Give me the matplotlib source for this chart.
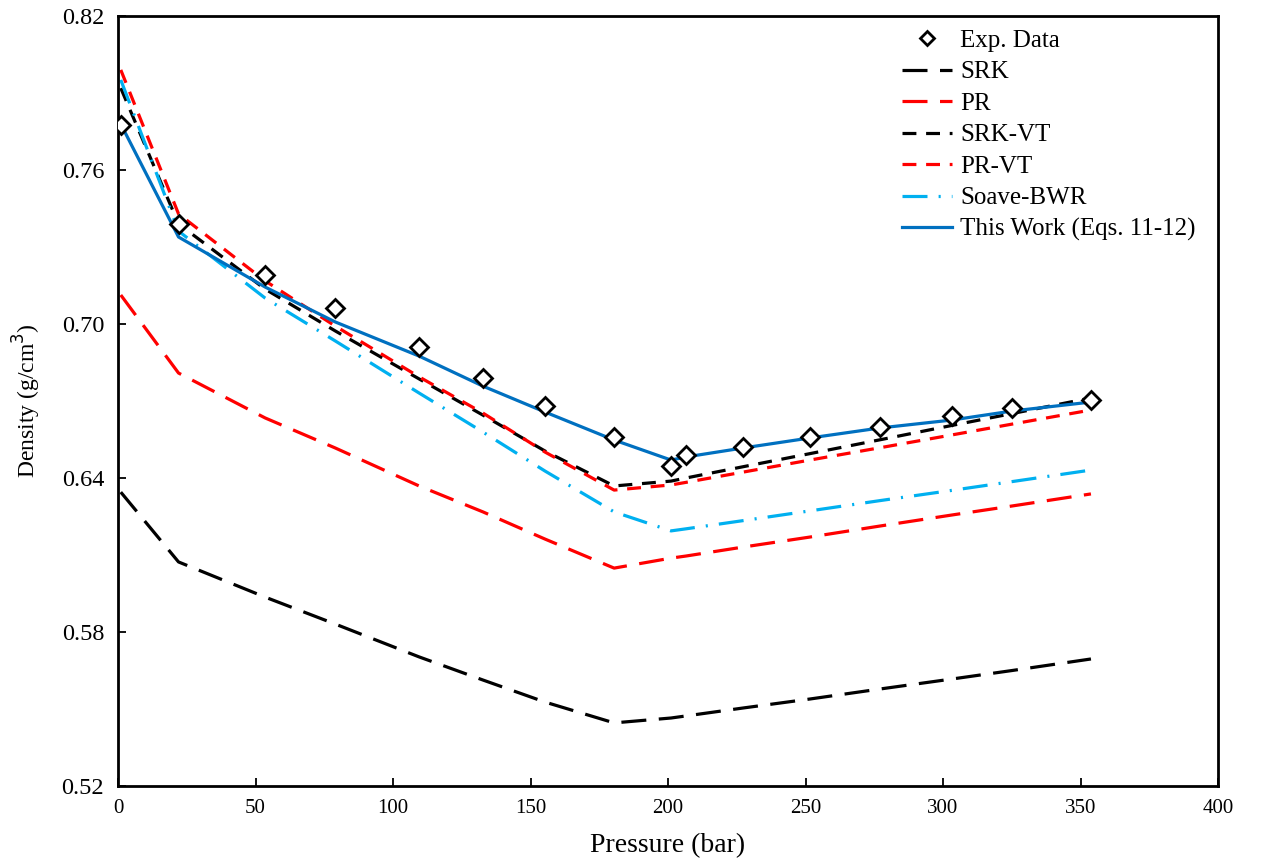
import numpy as np
import matplotlib
matplotlib.use("Agg")
import matplotlib.pyplot as plt
from matplotlib.ticker import FormatStrFormatter, FixedLocator, MultipleLocator

plt.rcParams['font.family'] = ['Liberation Serif', 'DejaVu Serif']
plt.rcParams['lines.scale_dashes'] = False

# pressure grid (bar) shared by measurements and model curves
pressure = [1, 22, 53.5, 79, 109.5, 132.7, 155.3, 180.4, 201.1, 206.5,
            227.3, 251.6, 277.1, 303.3, 325.1, 353.8]

# densities, g/cm3
exp_data = [0.7775, 0.7390, 0.7191, 0.7062, 0.6910, 0.6790, 0.6680, 0.6560,
            0.6447, 0.6490, 0.6520, 0.6560, 0.6599, 0.6642, 0.6673, 0.6704]
srk = [0.6345, 0.6073, 0.5936, 0.5831, 0.5703, 0.5613, 0.5527, 0.5446,
       0.5465, 0.5473, 0.5504, 0.5539, 0.5578, 0.5617, 0.5650, 0.5695]
pr = [0.7113, 0.6809, 0.6634, 0.6517, 0.6369, 0.6268, 0.6162, 0.6049,
      0.6088, 0.6096, 0.6131, 0.6170, 0.6213, 0.6256, 0.6291, 0.6338]
srk_vt = [0.7919, 0.7390, 0.7136, 0.6973, 0.6786, 0.6645, 0.6505, 0.6369,
          0.6388, 0.6400, 0.6444, 0.6495, 0.6549, 0.6605, 0.6651, 0.6712]
pr_vt = [0.7990, 0.7429, 0.7168, 0.6992, 0.6794, 0.6653, 0.6501, 0.6353,
         0.6373, 0.6383, 0.6423, 0.6470, 0.6518, 0.6568, 0.6610, 0.6665]
soave_bwr = [0.7951, 0.7362, 0.7101, 0.6934, 0.6731, 0.6579, 0.6427, 0.6268,
             0.6194, 0.6202, 0.6234, 0.6272, 0.6312, 0.6352, 0.6386, 0.6431]
this_work = [0.7779, 0.7339, 0.7144, 0.7008, 0.6875, 0.6758, 0.6657, 0.6548,
             0.6470, 0.6482, 0.6517, 0.6556, 0.6595, 0.6626, 0.6661, 0.6696]

y_ticks = [0.52, 0.58, 0.64, 0.70, 0.76, 0.82]

fig = plt.figure(figsize=(12.61, 8.65), dpi=100)
ax = fig.add_axes([0.0936, 0.0913, 0.8723, 0.8902])

lw = 2.3
ax.plot(pressure, exp_data, linestyle='none', marker='D', ms=9, mfc='white',
        mec='black', mew=2, label='Exp. Data', zorder=5)
ax.plot(pressure, srk, color='black', lw=lw, dashes=(18, 9), label='SRK')
ax.plot(pressure, pr, color='#FF0000', lw=lw, dashes=(18, 9), label='PR')
ax.plot(pressure, srk_vt, color='black', lw=lw, dashes=(10, 7), label='SRK-VT')
ax.plot(pressure, pr_vt, color='#FF0000', lw=lw, dashes=(10, 7), label='PR-VT')
ax.plot(pressure, soave_bwr, color='#00B0F0', lw=lw, dashes=(18, 8, 1.5, 8),
        label='Soave-BWR')
ax.plot(pressure, this_work, color='#0070C0', lw=lw, label='This Work (Eqs. 11-12)')

ax.set_xlim(0, 400)
ax.set_ylim(0.52, 0.82)
ax.xaxis.set_major_locator(MultipleLocator(50))
ax.yaxis.set_major_locator(FixedLocator(y_ticks))
ax.yaxis.set_major_formatter(FormatStrFormatter('%.2f'))
ax.tick_params(direction='in', length=6, width=1.3)
ax.tick_params(axis='x', labelsize=15, pad=9)
ax.tick_params(axis='y', labelsize=17.5, pad=10)
for s in ax.spines.values():
    s.set_linewidth(2)

ax.set_xlabel('Pressure (bar)', fontsize=20, labelpad=11)
ax.set_ylabel('Density (g/cm$^3$)', fontsize=17, labelpad=13)

ax.legend(loc='upper right', bbox_to_anchor=(1.0, 1.012), frameon=False,
          fontsize=18, numpoints=1, handlelength=2.0, labelspacing=0.36,
          handletextpad=0.3, markerscale=0.8)

fig.savefig('out.png', dpi=100)
